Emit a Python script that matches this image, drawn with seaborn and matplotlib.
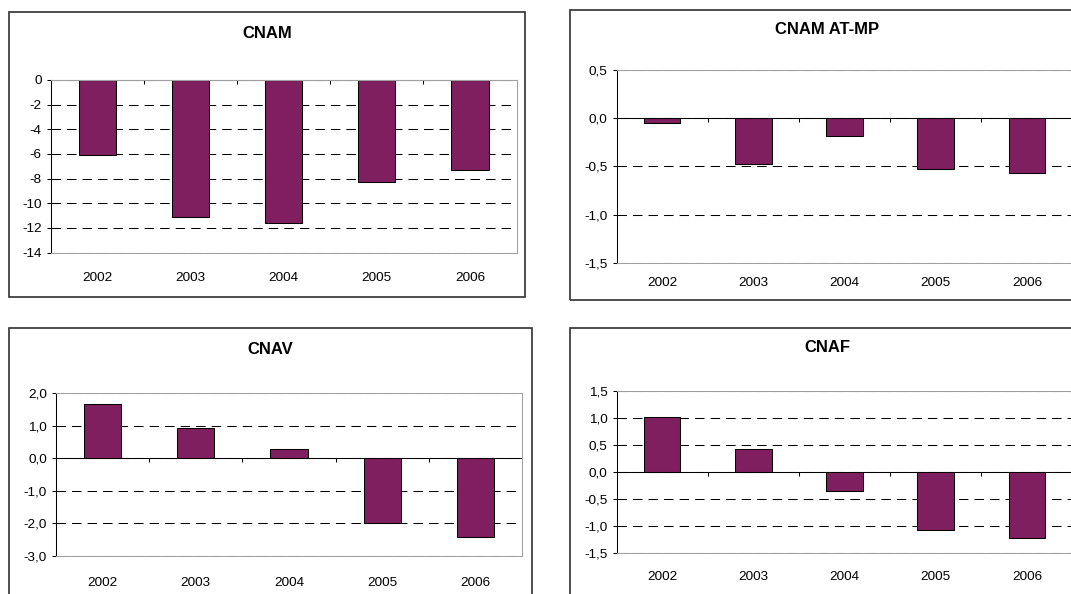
import matplotlib
matplotlib.use("Agg")
import matplotlib.pyplot as plt
import seaborn as sns
from matplotlib.patches import Rectangle

# ---------------- data ----------------
years = ["2002", "2003", "2004", "2005", "2006"]

cnam = [-6.1, -11.1, -11.6, -8.3, -7.3]
cnam_atmp = [-0.05, -0.48, -0.19, -0.53, -0.57]
cnav = [1.67, 0.94, 0.28, -1.98, -2.43]
cnaf = [1.02, 0.42, -0.36, -1.08, -1.23]

titles = ["CNAM", "CNAM AT-MP", "CNAV", "CNAF"]

cnam_ticks = [0, -2, -4, -6, -8, -10, -12, -14]
cnam_labels = ["0", "-2", "-4", "-6", "-8", "-10", "-12", "-14"]
atmp_ticks = [0.5, 0.0, -0.5, -1.0, -1.5]
atmp_labels = ["0,5", "0,0", "-0,5", "-1,0", "-1,5"]
cnav_ticks = [2.0, 1.0, 0.0, -1.0, -2.0, -3.0]
cnav_labels = ["2,0", "1,0", "0,0", "-1,0", "-2,0", "-3,0"]
cnaf_ticks = [1.5, 1.0, 0.5, 0.0, -0.5, -1.0, -1.5]
cnaf_labels = ["1,5", "1,0", "0,5", "0,0", "-0,5", "-1,0", "-1,5"]

# ---------------- style ----------------
W, H = 1071, 594
BAR = "#7F1F5F"
sns.set_style("white")
plt.rcParams["font.family"] = ["Liberation Sans", "DejaVu Sans"]

fig = plt.figure(figsize=(W / 100, H / 100), dpi=100)
fig.patch.set_facecolor("white")

def px_rect(x0, y0, x1, y1):
    return [x0 / W, 1 - y1 / H, (x1 - x0) / W, (y1 - y0) / H]

panels = [
    dict(vals=cnam, ticks=cnam_ticks, labels=cnam_labels, title=titles[0],
         ax=(50.7, 80, 516.6, 252.5), box=(8.5, 11.7, 525, 297), tpos=(267, 33), xpad=14),
    dict(vals=cnam_atmp, ticks=atmp_ticks, labels=atmp_labels, title=titles[1],
         ax=(616.5, 70, 1072.5, 262.7), box=(569.7, 10, 1090, 300), tpos=(827, 30), xpad=10),
    dict(vals=cnav, ticks=cnav_ticks, labels=cnav_labels, title=titles[2],
         ax=(56, 393.3, 522, 556), box=(8.5, 327.7, 532, 610), tpos=(270, 349), xpad=15),
    dict(vals=cnaf, ticks=cnaf_ticks, labels=cnaf_labels, title=titles[3],
         ax=(616.5, 391, 1072.5, 552.7), box=(569.7, 328, 1090, 610), tpos=(827, 348), xpad=13),
]

dash = (0, (9.1, 5.8))

for p in panels:
    # outer chart box
    bx0, by0, bx1, by1 = p["box"]
    fig.add_artist(Rectangle((bx0 / W, 1 - by1 / H), (bx1 - bx0) / W, (by1 - by0) / H,
                             transform=fig.transFigure, fill=False,
                             edgecolor="#303030", linewidth=1.2, zorder=0))
    fig.text(p["tpos"][0] / W, 1 - p["tpos"][1] / H, p["title"], ha="center", va="center",
             fontsize=12, fontweight="bold", color="black")

    ax = fig.add_axes(px_rect(*p["ax"]))
    sns.barplot(x=years, y=p["vals"], ax=ax, color=BAR, saturation=1, width=0.4,
                edgecolor="black", linewidth=0.75)
    lo, hi = min(p["ticks"]), max(p["ticks"])
    ax.set_ylim(lo, hi)
    ax.set_xlim(-0.5, 4.5)
    ax.set_yticks(p["ticks"])
    ax.set_yticklabels(p["labels"])
    ax.set_xlabel("")
    ax.set_ylabel("")
    ax.set_axisbelow(True)
    ax.yaxis.grid(True, color="black", linewidth=0.75, linestyle=dash)
    ax.xaxis.grid(False)
    for s in ["top", "right", "bottom"]:
        ax.spines[s].set_visible(True)
        ax.spines[s].set_color("#A0A0A0")
        ax.spines[s].set_linewidth(0.75)
    ax.spines["left"].set_visible(True)
    ax.spines["left"].set_color("black")
    ax.spines["left"].set_linewidth(0.75)
    ax.tick_params(axis="y", direction="out", length=3, width=0.75, pad=3.5,
                   labelsize=9.7, left=True, color="black", labelcolor="black")
    ax.tick_params(axis="x", length=0, pad=p["xpad"], labelsize=9.7, labelcolor="black")

    # category axis crossing at zero
    frac = (0 - lo) / (hi - lo)
    sec = ax.secondary_xaxis(frac)
    sec.set_alignment("bottom")
    sec.set_xticks([0.5, 1.5, 2.5, 3.5])
    sec.set_xticklabels([])
    sec.tick_params(axis="x", direction="out", length=3.2, width=0.75, color="black",
                    labelbottom=False, labeltop=False)
    sec.spines["bottom"].set_color("black")
    sec.spines["bottom"].set_linewidth(0.75)

fig.savefig("out.png", dpi=100, facecolor="white")
